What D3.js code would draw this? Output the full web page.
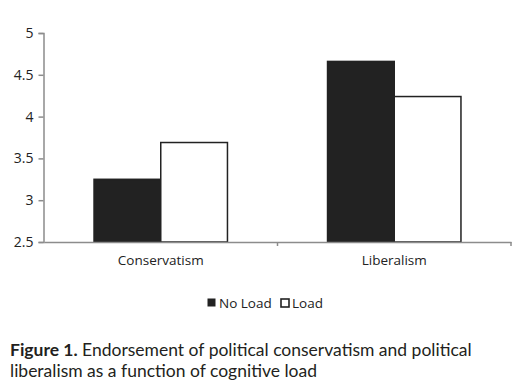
<!DOCTYPE html>
<html>
<head>
<meta charset="utf-8">
<script src="https://cdn.jsdelivr.net/npm/d3@7"></script>
<style>
  body { margin: 0; background: #fff; }
  svg { display: block; }
  .caption { font-family: Lato, "Open Sans", sans-serif; font-size: 17.5px; fill: #231f20; }
  .lbl { font-family: "Open Sans", sans-serif; font-size: 13.5px; fill: #222; }
</style>
</head>
<body>
<svg id="chart" width="530" height="386"></svg>
<script>
// data
var categories = ["Conservatism", "Liberalism"];
var series = ["No Load", "Load"];
var noLoad = [3.25, 4.66];
var load = [3.69, 4.24];
var yTicks = [2.5, 3, 3.5, 4, 4.5, 5];

var values = [noLoad, load];
var svg = d3.select("#chart");
var axisColor = "#8c8c8c";

var x = d3.scaleBand()
    .domain(categories)
    .range([44, 511])
    .paddingInner(0)
    .paddingOuter(0);

var x1 = d3.scaleBand()
    .domain(series)
    .range([0, x.bandwidth()])
    .paddingInner(0)
    .paddingOuter(0.75);   // gap width 150%

var y = d3.scaleLinear()
    .domain([2.5, 5])
    .range([242, 33]);

// bars
var groups = svg.selectAll("g.cat").data(categories).enter()
    .append("g")
    .attr("class", "cat")
    .attr("transform", function(d) { return "translate(" + x(d) + ",0)"; });

groups.selectAll("rect")
    .data(function(d, i) {
        return series.map(function(s, j) { return { s: s, v: values[j][i] }; });
    })
    .enter().append("rect")
    .attr("x", function(d) { return x1(d.s); })
    .attr("width", x1.bandwidth())
    .attr("y", function(d) { return y(d.v); })
    .attr("height", function(d) { return y(2.5) - y(d.v); })
    .attr("fill", function(d) { return d == "No Load" || d.s == "No Load" ? "#222" : "#fff"; })
    .attr("stroke", "#222")
    .attr("stroke-width", 1.5);

// y axis
var yAxis = d3.axisLeft(y).tickValues(yTicks).tickSize(5).tickPadding(5)
    .tickFormat(function(d) { return d; });
var gy = svg.append("g").attr("transform", "translate(43.5,0)").call(yAxis);
gy.select(".domain").attr("stroke", axisColor).attr("stroke-width", 1.5);
gy.selectAll(".tick line").attr("stroke", axisColor).attr("stroke-width", 1.5);
gy.selectAll(".tick text").attr("fill", "#222")
    .style("font-family", "'Open Sans', sans-serif").style("font-size", "14px");

// x axis line with boundary ticks
var xAxis = d3.axisBottom(x).tickSize(0).tickPadding(13);
var gx = svg.append("g").attr("transform", "translate(0,242)").call(xAxis);
gx.select(".domain").attr("stroke", axisColor).attr("stroke-width", 1.5);
gx.selectAll(".tick text").attr("fill", "#222")
    .style("font-family", "'Open Sans', sans-serif").style("font-size", "13.5px");
gx.selectAll("line.bound").data(categories).enter()
    .append("line")
    .attr("class", "bound")
    .attr("x1", function(d) { return x(d) + x.bandwidth(); })
    .attr("x2", function(d) { return x(d) + x.bandwidth(); })
    .attr("y1", 0).attr("y2", 4)
    .attr("stroke", axisColor).attr("stroke-width", 1.5);

// legend
var legendX = [208, 281];
var leg = svg.selectAll("g.leg").data(series).enter()
    .append("g")
    .attr("class", "leg")
    .attr("transform", function(d, i) { return "translate(" + legendX[i] + ",299)"; });
leg.append("rect")
    .attr("width", function(d) { return d == "No Load" ? 7 : 8; })
    .attr("height", function(d) { return d == "No Load" ? 7 : 8; })
    .attr("fill", function(d) { return d == "No Load" ? "#222" : "#fff"; })
    .attr("stroke", "#222").attr("stroke-width", function(d) { return d == "No Load" ? 1 : 1.6; });
leg.append("text")
    .attr("class", "lbl")
    .attr("x", function(d) { return d == "No Load" ? 11 : 11; })
    .attr("y", 8.5)
    .text(function(d) { return d; });

// caption
var cap = svg.append("text").attr("class", "caption").attr("x", 10).attr("y", 356);
cap.append("tspan").attr("font-weight", "bold").text("Figure 1.");
cap.append("tspan").text(" Endorsement of political conservatism and political");
svg.append("text").attr("class", "caption").attr("x", 10).attr("y", 377)
    .text("liberalism as a function of cognitive load");
</script>
</body>
</html>
